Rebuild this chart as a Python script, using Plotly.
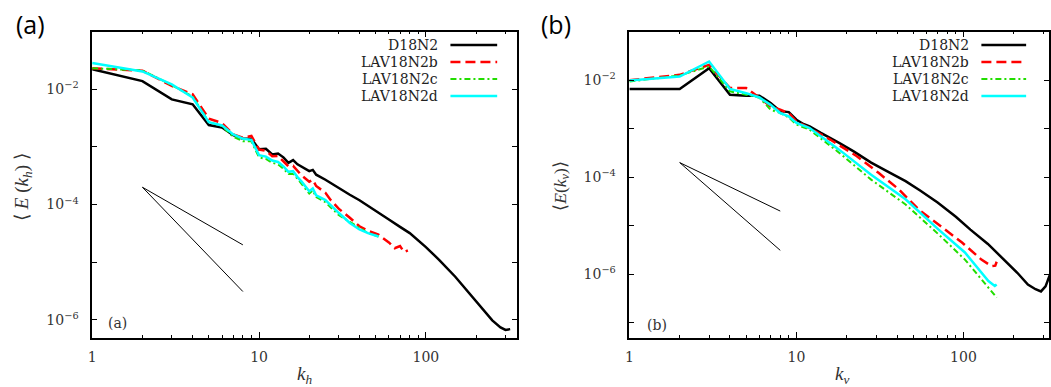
import plotly.graph_objects as go

# ---------------- data: panel (a) horizontal spectra ----------------
kh_d18n2 = [1, 2, 3, 4, 5, 6, 7, 8, 9, 10, 11, 12, 13, 14, 15, 16, 17, 18, 20, 21, 22, 25,
            30, 35, 40, 50, 60, 70, 80, 100, 120, 150, 200, 250, 280, 300, 320]
eh_d18n2 = [0.0223, 0.0139, 0.0067, 0.0055, 0.0024, 0.00218, 0.00160, 0.00139, 0.00139, 0.00091,
            0.00093, 0.00074, 0.00077, 0.00066, 0.00053, 0.00059, 0.00050, 0.00045, 0.00038, 0.00040,
            0.00033, 0.00027, 0.000192, 0.000148, 0.000119, 7.9e-5, 5.5e-5, 4.1e-5, 3.2e-5, 1.83e-5,
            1.1e-5, 5.6e-6, 2.1e-6, 9.8e-7, 7.4e-7, 6.7e-7, 6.9e-7]

kh_lav_b = [1, 2, 3, 4, 5, 6, 7, 8, 9, 10, 11, 12, 13, 14, 15, 16, 17, 18, 20, 21, 22, 25, 27,
            30, 35, 40, 45, 52, 60, 65, 70, 74, 78]
eh_lav_b = [0.0232, 0.021, 0.0115, 0.0082, 0.0031, 0.0026, 0.00165, 0.00145, 0.00155, 0.00090,
            0.00086, 0.00069, 0.00070, 0.00056, 0.00046, 0.00047, 0.00038, 0.00032, 0.00025, 0.00027,
            0.00021, 0.000160, 0.000118, 8.5e-5, 5.9e-5, 4.2e-5, 3.5e-5, 3.0e-5, 2.2e-5, 1.75e-5,
            1.9e-5, 1.5e-5, 1.6e-5]

kh_lav_c = [1, 2, 3, 4, 5, 6, 7, 8, 9, 10, 11, 12, 13, 14, 15, 16, 17, 18, 20, 21, 22, 25,
            30, 35, 40, 45, 52]
eh_lav_c = [0.0232, 0.0214, 0.0118, 0.0075, 0.0027, 0.0023, 0.00150, 0.00126, 0.00125, 0.00066,
            0.00062, 0.00053, 0.00050, 0.00042, 0.00034, 0.00034, 0.00028, 0.00023, 0.000155, 0.000175,
            0.000135, 0.000110, 6.6e-5, 5.0e-5, 4.0e-5, 3.2e-5, 2.8e-5]

kh_lav_d = [1, 2, 3, 4, 5, 6, 7, 8, 9, 10, 11, 12, 13, 14, 15, 16, 17, 18, 20, 21, 22, 25,
            30, 35, 40, 45, 52]
eh_lav_d = [0.0286, 0.0204, 0.0122, 0.0072, 0.0027, 0.00236, 0.00165, 0.00139, 0.00133, 0.00072,
            0.00068, 0.00058, 0.00055, 0.00046, 0.00037, 0.00038, 0.00030, 0.00025, 0.000170, 0.000190,
            0.000145, 0.000120, 7.2e-5, 4.8e-5, 3.7e-5, 3.2e-5, 2.8e-5]

# ---------------- data: panel (b) vertical spectra ----------------
kv_d18n2 = [1, 2, 3, 4, 5, 6, 7, 8, 9, 10, 11, 12, 14, 16, 18, 22, 28, 35, 45, 55, 70, 90,
            110, 140, 175, 210, 243, 270, 291, 310, 330]
ev_d18n2 = [0.0066, 0.0066, 0.0177, 0.0050, 0.0048, 0.0048, 0.0034, 0.0023, 0.0022, 0.00153,
            0.00125, 0.00112, 0.00082, 0.00064, 0.00051, 0.00034, 0.000200, 0.000132, 8.3e-5, 5.3e-5,
            3.0e-5, 1.53e-5, 8.3e-6, 4.2e-6, 2.0e-6, 1.07e-6, 6.1e-7, 4.9e-7, 4.4e-7, 5.6e-7, 1.0e-6]

kv_lav_b = [1, 2, 3, 4, 5, 6, 7, 8, 9, 10, 11, 16, 23, 31, 41, 54, 71, 98, 128, 147, 155, 158]
ev_lav_b = [0.0100, 0.0129, 0.0207, 0.0069, 0.0069, 0.0044, 0.0029, 0.00246, 0.0021, 0.0014,
            0.0012, 0.00059, 0.00027, 0.000123, 5.6e-5, 2.15e-5, 1.06e-5, 4.5e-6, 2.0e-6, 1.47e-6,
            1.5e-6, 1.8e-6]

kv_lav_c = [1, 2, 3, 4, 5, 6, 7, 8, 9, 10, 12, 18, 28, 45, 71, 102, 158]
ev_lav_c = [0.0094, 0.0125, 0.0192, 0.0059, 0.0050, 0.0044, 0.00246, 0.0021, 0.0017, 0.00122,
            0.00095, 0.00032, 8.9e-5, 2.74e-5, 6.6e-6, 2.0e-6, 3.3e-7]

kv_lav_d = [1, 2, 3, 4, 5, 6, 7, 8, 9, 10, 12, 18, 28, 45, 71, 102, 141, 154, 158]
ev_lav_d = [0.0099, 0.0119, 0.0243, 0.0066, 0.0054, 0.0044, 0.0031, 0.0021, 0.00179, 0.00131,
            0.00103, 0.00037, 0.000112, 3.5e-5, 8.3e-6, 2.8e-6, 7.2e-7, 5.7e-7, 6.1e-7]

# reference slopes (k^-5/3 and k^-3 guides)
slope_k = [2, 8]
slope_53 = [2e-4, 2e-5]
slope_3 = [2e-4, 3.1e-6]

series_names = ["D18N2", "LAV18N2b", "LAV18N2c", "LAV18N2d"]
x_tick_vals = [1, 10, 100]
x_tick_text = ["1", "10", "100"]
x_minor_vals = [2, 3, 4, 5, 6, 7, 8, 9, 20, 30, 40, 50, 60, 70, 80, 90, 200, 300]
y_tick_vals = [1e-2, 1e-4, 1e-6]
y_tick_text = ["10<sup>\u22122</sup>", "10<sup>\u22124</sup>", "10<sup>\u22126</sup>"]
y_minor_vals = [1e-1, 1e-3, 1e-5, 1e-7]

# ---------------- styling ----------------
W, H = 1051, 387
styles = [
    dict(color="black", width=2.5, dash="solid"),
    dict(color="#ff0000", width=2.5, dash="10px,5px"),
    dict(color="#22dd00", width=2, dash="6px,3px,2px,3px"),
    dict(color="#00ffff", width=2.5, dash="solid"),
]
SERIF = "DejaVu Serif"
SERIF2 = "Liberation Serif"
SANS = "Open Sans"


def fx(p):
    return p / W


def fy(p):
    return 1 - p / H


fig = go.Figure()

panel_a = [(kh_d18n2, eh_d18n2), (kh_lav_b, eh_lav_b), (kh_lav_c, eh_lav_c), (kh_lav_d, eh_lav_d)]
panel_b = [(kv_d18n2, ev_d18n2), (kv_lav_b, ev_lav_b), (kv_lav_c, ev_lav_c), (kv_lav_d, ev_lav_d)]

for (xa, ya) in [("x", "y"), ("x2", "y2")]:
    for yy in (slope_53, slope_3):
        fig.add_trace(go.Scatter(x=slope_k, y=yy, mode="lines", xaxis=xa, yaxis=ya,
                                 line=dict(color="black", width=1), showlegend=False,
                                 hoverinfo="skip"))

for data, (xa, ya) in [(panel_a, ("x", "y")), (panel_b, ("x2", "y2"))]:
    for (k, e), st, nm in zip(data, styles, series_names):
        fig.add_trace(go.Scatter(x=k, y=e, mode="lines", name=nm, xaxis=xa, yaxis=ya,
                                 line=dict(color=st["color"], width=st["width"], dash=st["dash"]),
                                 showlegend=False))

axis_common = dict(type="log", showline=True, linecolor="black", linewidth=1.5, mirror="ticks",
                   ticks="inside", ticklen=6, tickwidth=1, tickcolor="black", showgrid=False,
                   zeroline=False, tickfont=dict(family=SERIF, size=14, color="#333"))

xaxis_common = dict(axis_common, tickmode="array", tickvals=x_tick_vals, ticktext=x_tick_text,
                    ticklabelstandoff=6,
                    minor=dict(tickmode="array", tickvals=x_minor_vals, ticks="inside", ticklen=3,
                               tickwidth=1, tickcolor="black", showgrid=False))
yaxis_common = dict(axis_common, tickmode="array", tickvals=y_tick_vals, ticktext=y_tick_text,
                    ticklen=5, ticklabelstandoff=9,
                    minor=dict(tickmode="array", tickvals=y_minor_vals, ticks="inside", ticklen=5,
                               tickwidth=1, tickcolor="black", showgrid=False))

fig.update_layout(
    width=W, height=H, margin=dict(l=0, r=0, t=0, b=0),
    paper_bgcolor="white", plot_bgcolor="white", showlegend=False,
    xaxis=dict(xaxis_common, domain=[fx(88.7), fx(515.5)], range=[0, 2.5435], anchor="y"),
    yaxis=dict(yaxis_common, domain=[fy(337.7), fy(31.7)], range=[-6.31, -1.0], anchor="x"),
    xaxis2=dict(xaxis_common, domain=[fx(629), 1.0], range=[0, 2.512], anchor="y2"),
    yaxis2=dict(yaxis_common, domain=[fy(337.7), fy(31.7)], range=[-7.31, -1.0], anchor="x2"),
)

ann = []
# panel letters
for txt, x in [("(a)", 27), ("(b)", 555)]:
    ann.append(dict(text=txt, x=fx(x), y=fy(24), xref="paper", yref="paper", showarrow=False,
                    xanchor="center", yanchor="middle",
                    font=dict(family=SANS, size=25, color="black")))
# inner labels
for txt, x, y in [("(a)", 114, 322.7), ("(b)", 657, 324.5)]:
    ann.append(dict(text=txt, x=fx(x), y=fy(y), xref="paper", yref="paper", showarrow=False,
                    xanchor="center", yanchor="middle", font=dict(family=SERIF, size=14, color="#333")))
# axis titles
for txt, x in [("<i>k</i><sub><i>h</i></sub>", 302), ("<i>k</i><sub><i>v</i></sub>", 843)]:
    ann.append(dict(text=txt, x=fx(x), y=fy(375), xref="paper", yref="paper", showarrow=False,
                    xanchor="center", yanchor="middle", font=dict(family=SERIF2, size=19, color="#333")))
for txt, x, y, sz in [("\u27e8 <i>E</i> (<i>k</i><sub><i>h</i></sub>) \u27e9", 19, 187, 19),
                      ("\u27e8<i>E</i>(<i>k</i><sub><i>v</i></sub>)\u27e9", 560, 186, 17.5)]:
    ann.append(dict(text=txt, x=fx(x), y=fy(y), xref="paper", yref="paper", showarrow=False,
                    textangle=-90, xanchor="center", yanchor="middle",
                    font=dict(family=SERIF2, size=sz, color="#333")))

# manual legends (text right-aligned, sample to the right, gnuplot style)
shapes = []
legend_rows = [45, 62, 79, 96]
for text_right, s0, s1 in [(438, 449, 496), (972, 983, 1028)]:
    for row, nm, st in zip(legend_rows, series_names, styles):
        ann.append(dict(text=nm, x=fx(text_right), y=fy(row), xref="paper", yref="paper",
                        showarrow=False, xanchor="right", yanchor="middle", borderpad=0,
                        font=dict(family=SERIF, size=14, color="#222")))
        shapes.append(dict(type="line", xref="paper", yref="paper", x0=fx(s0), x1=fx(s1),
                           y0=fy(row), y1=fy(row),
                           line=dict(color=st["color"], width=st["width"], dash=st["dash"])))

fig.update_layout(annotations=ann, shapes=shapes)

fig.write_html("out.html", config={"displayModeBar": False},
               post_script="document.body.style.margin='0';document.body.style.overflow='hidden';")
